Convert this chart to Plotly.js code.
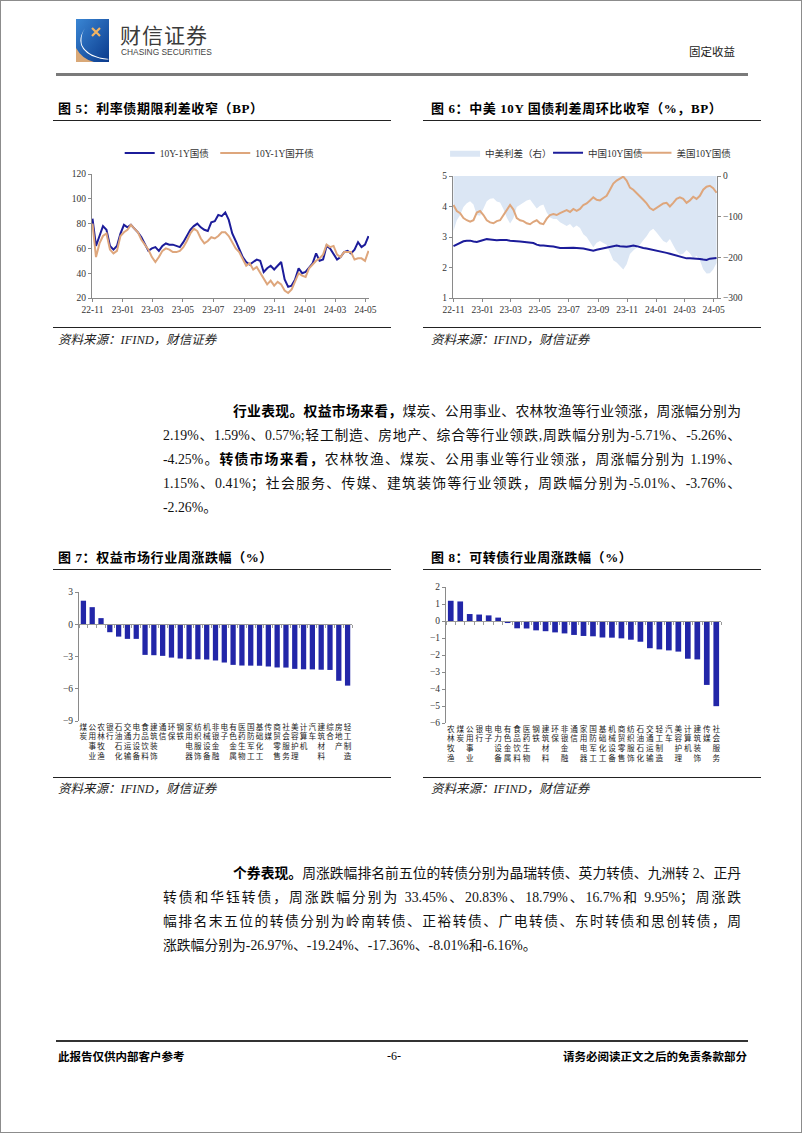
<!DOCTYPE html>
<html>
<head>
<meta charset="utf-8">
<script src="https://cdn.plot.ly/plotly-3.0.1.min.js"></script>
<style>
  body { margin: 0; background: #fff; }
  #page { position: relative; width: 800px; height: 1131px; border: 1px solid #8c8c8c; overflow: hidden;
          font-family: "Liberation Serif", "Noto Sans CJK SC", serif; color: #000; }
  .abs { position: absolute; }
  .ctitle { position: absolute; font-family: "Liberation Serif", "Noto Sans CJK SC"; font-weight: bold; font-size: 13px;
            line-height: 16px; letter-spacing: 0.6px; white-space: nowrap; }
  .rule { position: absolute; height: 0; border-top: 1.6px solid #222; }
  .src { position: absolute; font-style: italic; font-size: 12.5px; line-height: 16px; color: #222; white-space: nowrap; }
  .chart { position: absolute; }
  .ln { position: absolute; left: 162px; width: 578px; font-size: 13.8px; line-height: 20px; height: 20px;
        text-align: justify; text-align-last: justify; color: #111; }
  .ln.ind { left: 232px; width: 508px; }
  .ln.last { text-align-last: left; }
  .ln b { font-weight: bold; color: #000; }
</style>
</head>
<body>
<div id="page">
  <!-- header -->
  <svg class="abs" style="left:75px;top:18px" width="33" height="43" viewBox="0 0 33 43">
    <defs>
      <linearGradient id="lg" x1="0" y1="0" x2="1" y2="1">
        <stop offset="0" stop-color="#3a86d4"/><stop offset="1" stop-color="#0a3a8c"/>
      </linearGradient>
    </defs>
    <rect width="33" height="43" fill="url(#lg)"/>
    <path d="M0 29 Q6 40 18 43 L0 43 Z" fill="#d9a877"/>
    <path d="M9 9 Q-3 27 16 37 Q30 42 33 40 Q12 38 6 26 Q4 17 9 9 Z" fill="#fff"/>
    <path d="M16 9 L24 17 M24 9 L16 17" stroke="#f2b463" stroke-width="2.2"/>
  </svg>
  <div class="abs" style="left:119px;top:21px;font-family:'Noto Sans CJK SC';font-size:21px;line-height:24px;color:#3b3b3b;letter-spacing:1px">财信证券</div>
  <div class="abs" style="left:120px;top:47px;font-family:'Liberation Sans';font-size:8.4px;line-height:9px;color:#444">CHASING SECURITIES</div>
  <div class="abs" style="left:688px;top:42px;font-family:'Noto Sans CJK SC';font-size:11.5px;line-height:16px;color:#222">固定收益</div>
  <div class="abs" style="left:55px;top:72px;width:692px;height:3px;background:#7a7a7a"></div>

  <!-- figure 5 / 6 -->
  <div class="ctitle" style="left:57px;top:100px">图 5：利率债期限利差收窄（BP）</div>
  <div class="rule" style="left:52px;top:119px;width:338px"></div>
  <div id="chart5" class="chart" style="left:48px;top:125px;width:342px;height:200px"></div>
  <div class="rule" style="left:52px;top:326px;width:338px"></div>
  <div class="src" style="left:57px;top:331px">资料来源：IFIND，财信证券</div>

  <div class="ctitle" style="left:430px;top:100px">图 6：中美 10Y 国债利差周环比收窄（%，BP）</div>
  <div class="rule" style="left:422px;top:119px;width:338px"></div>
  <div id="chart6" class="chart" style="left:418px;top:125px;width:345px;height:200px"></div>
  <div class="rule" style="left:422px;top:326px;width:338px"></div>
  <div class="src" style="left:430px;top:331px">资料来源：IFIND，财信证券</div>

  <!-- paragraph 1 -->
  <div class="ln ind" style="top:401px"><b>行业表现。权益市场来看，</b>煤炭、公用事业、农林牧渔等行业领涨，周涨幅分别为</div>
  <div class="ln" style="top:425px">2.19%、1.59%、0.57%;轻工制造、房地产、综合等行业领跌,周跌幅分别为-5.71%、-5.26%、</div>
  <div class="ln" style="top:449px">-4.25%。<b>转债市场来看，</b>农林牧渔、煤炭、公用事业等行业领涨，周涨幅分别为 1.19%、</div>
  <div class="ln" style="top:473px">1.15%、0.41%；社会服务、传媒、建筑装饰等行业领跌，周跌幅分别为-5.01%、-3.76%、</div>
  <div class="ln last" style="top:497px">-2.26%。</div>

  <!-- figure 7 / 8 -->
  <div class="ctitle" style="left:57px;top:549px">图 7：权益市场行业周涨跌幅（%）</div>
  <div class="rule" style="left:52px;top:568px;width:338px"></div>
  <div id="chart7" class="chart" style="left:48px;top:572px;width:342px;height:200px"></div>
  <div class="rule" style="left:52px;top:776px;width:338px"></div>
  <div class="src" style="left:57px;top:780px">资料来源：IFIND，财信证券</div>

  <div class="ctitle" style="left:430px;top:549px">图 8：可转债行业周涨跌幅（%）</div>
  <div class="rule" style="left:422px;top:568px;width:338px"></div>
  <div id="chart8" class="chart" style="left:418px;top:572px;width:345px;height:200px"></div>
  <div class="rule" style="left:422px;top:776px;width:338px"></div>
  <div class="src" style="left:430px;top:780px">资料来源：IFIND，财信证券</div>

  <!-- paragraph 2 -->
  <div class="ln ind" style="top:863px"><b>个券表现。</b>周涨跌幅排名前五位的转债分别为晶瑞转债、英力转债、九洲转 2、正丹</div>
  <div class="ln" style="top:887px">转债和华钰转债，周涨跌幅分别为 33.45%、20.83%、18.79%、16.7%和 9.95%；周涨跌</div>
  <div class="ln" style="top:911px">幅排名末五位的转债分别为岭南转债、正裕转债、广电转债、东时转债和思创转债，周</div>
  <div class="ln last" style="top:935px">涨跌幅分别为-26.97%、-19.24%、-17.36%、-8.01%和-6.16%。</div>

  <!-- footer -->
  <div class="abs" style="left:55px;top:1039px;width:692px;height:2px;background:#333"></div>
  <div class="abs" style="left:57px;top:1047px;font-family:'Noto Sans CJK SC';font-weight:bold;font-size:11.5px;line-height:16px">此报告仅供内部客户参考</div>
  <div class="abs" style="left:386px;top:1047px;font-size:12px;line-height:16px">-6-</div>
  <div class="abs" style="right:54px;top:1047px;font-family:'Noto Sans CJK SC';font-weight:bold;font-size:11.5px;line-height:16px">请务必阅读正文之后的免责条款部分</div>
</div>

<script>
// weekly series, first point 2022-11-01
const startDate = '2022-11-01';
const weekMs = 7 * 24 * 3600 * 1000;

// 图5: 10Y-1Y 期限利差 (BP)
const govSpread = [84, 62, 70, 78, 75, 62, 59, 62, 72, 79,
  77, 79, 76, 73, 69, 64, 58, 60, 61, 58,
  62, 64, 63, 63, 62, 61, 65, 70, 75, 78,
  80, 77, 75, 74, 81, 82, 87, 86, 89, 83,
  72, 66, 60, 53, 49, 47, 49, 51, 50, 41,
  44, 46, 43, 46, 49, 35, 29, 30, 35, 44,
  40, 41, 45, 48, 56, 50, 51, 62, 60, 56,
  51, 53, 57, 58, 56, 59, 65, 61, 63, 70];
const cdbSpread = [80, 53, 64, 70, 72, 59, 56, 58, 70, 73,
  75, 79, 76, 73, 67, 63, 59, 53, 49, 53,
  58, 60, 59, 57, 57, 58, 61, 66, 72, 76,
  74, 68, 64, 66, 69, 68, 70, 73, 73, 70,
  65, 60, 57, 51, 46, 48, 43, 45, 40, 35,
  31, 34, 30, 33, 31, 26, 24, 27, 33, 40,
  38, 37, 44, 47, 50, 52, 55, 63, 61, 62,
  55, 53, 57, 57, 57, 51, 52, 52, 50, 58];

// 图6: 中美10Y国债 (%) 与利差 (BP)
const cn10y = [2.70, 2.76, 2.82, 2.86, 2.88, 2.88, 2.85, 2.84, 2.87, 2.90,
  2.93, 2.92, 2.90, 2.89, 2.90, 2.91, 2.90, 2.88, 2.86, 2.86,
  2.85, 2.84, 2.83, 2.82, 2.80, 2.75, 2.72, 2.72, 2.70, 2.70,
  2.69, 2.66, 2.64, 2.64, 2.65, 2.64, 2.65, 2.64, 2.64, 2.62,
  2.60, 2.57, 2.55, 2.58, 2.60, 2.63, 2.66, 2.67, 2.68, 2.72,
  2.70, 2.68, 2.68, 2.70, 2.72, 2.70, 2.66, 2.64, 2.62, 2.60,
  2.58, 2.56, 2.52, 2.50, 2.48, 2.45, 2.42, 2.40, 2.37, 2.34,
  2.30, 2.30, 2.30, 2.29, 2.28, 2.26, 2.25, 2.29, 2.30, 2.31];
const us10y = [4.05, 3.85, 3.78, 3.62, 3.55, 3.50, 3.55, 3.80, 3.85, 3.72,
  3.55, 3.48, 3.45, 3.52, 3.55, 3.72, 3.92, 4.05, 3.90, 3.62,
  3.55, 3.52, 3.45, 3.42, 3.50, 3.55, 3.45, 3.42, 3.60, 3.72,
  3.75, 3.72, 3.78, 3.82, 3.88, 3.82, 3.92, 3.86, 3.92, 4.05,
  4.10, 4.20, 4.30, 4.22, 4.20, 4.28, 4.35, 4.55, 4.75, 4.85,
  4.92, 4.98, 4.85, 4.62, 4.55, 4.45, 4.35, 4.22, 4.10, 3.95,
  3.88, 3.95, 4.02, 4.10, 4.12, 4.00, 4.12, 4.25, 4.30, 4.25,
  4.12, 4.20, 4.32, 4.25, 4.35, 4.55, 4.65, 4.68, 4.60, 4.45];
const cnUsSpread = [-135, -109, -96, -76, -67, -62, -70, -96, -98, -82,
  -62, -56, -55, -63, -65, -81, -102, -117, -104, -76,
  -70, -66, -60, -58, -70, -80, -73, -70, -90, -102,
  -106, -106, -114, -118, -123, -118, -127, -122, -128, -143,
  -150, -163, -175, -164, -160, -165, -169, -188, -207, -213,
  -222, -230, -217, -192, -183, -175, -169, -158, -148, -135,
  -130, -139, -150, -160, -164, -155, -170, -185, -193, -191,
  -182, -190, -202, -196, -207, -229, -240, -239, -230, -214];

// 图7: 权益市场行业周涨跌幅 (%)
const equityInds = ['煤炭', '公用事业', '农林牧渔', '银行', '石油石化', '交通运输', '电力设备', '食品饮料',
  '建筑装饰', '通信', '环保', '钢铁', '家用电器', '纺织服饰', '机械设备', '非银金融', '电子', '有色金属',
  '医药生物', '国防军工', '基础化工', '传媒', '商贸零售', '社会服务', '美容护理', '计算机', '汽车',
  '建筑材料', '综合', '房地产', '轻工制造'];
const equityChg = [2.19, 1.59, 0.57, -0.74, -1.15, -1.36, -1.36, -2.85, -2.88, -2.94, -3.10, -3.19, -3.25,
  -3.26, -3.28, -3.37, -3.56, -3.78, -3.84, -3.85, -3.86, -3.93, -4.02, -4.03, -4.15, -4.19, -4.20, -4.23,
  -4.25, -5.26, -5.71];

// 图8: 可转债行业周涨跌幅 (%)
const cbInds = ['农林牧渔', '煤炭', '公用事业', '银行', '电子', '电力设备', '有色金属', '食品饮料', '医药生物',
  '钢铁', '建筑材料', '环保', '非银金融', '通信', '家用电器', '国防军工', '基础化工', '机械设备', '商贸零售',
  '纺织服饰', '石油石化', '交通运输', '轻工制造', '汽车', '美容护理', '计算机', '建筑装饰', '传媒', '社会服务'];
const cbChg = [1.19, 1.15, 0.41, 0.38, 0.33, 0.20, -0.12, -0.43, -0.44, -0.55, -0.60, -0.67, -0.73, -0.82,
  -0.88, -0.90, -0.97, -0.98, -1.02, -1.10, -1.22, -1.60, -1.67, -1.73, -1.80, -2.22, -2.26, -3.76, -5.01];

const navy = '#1c1c9a';
const tan = '#dea67c';
const areaBlue = '#dbe6f4';
const barBlue = '#2226a8';
const fontFam = "'Liberation Serif', 'Noto Sans CJK SC', serif";
const axisColor = '#8a8a8a';
const cfg = { displayModeBar: false, responsive: false };

const baseLayout = {
  paper_bgcolor: '#fff',
  plot_bgcolor: '#fff',
  font: { family: fontFam, size: 9.5, color: '#333' },
  showlegend: true,
  hovermode: false
};

const dateAxis = {
  type: 'date',
  range: ['2022-10-31', '2024-05-08'],
  tick0: '2022-11-01',
  dtick: 'M2',
  tickformat: '%y-%m',
  ticks: 'outside',
  ticklen: 3,
  tickcolor: axisColor,
  showline: true,
  linecolor: axisColor,
  showgrid: false,
  zeroline: false,
  tickfont: { family: fontFam, size: 9.5, color: '#333' }
};

const valueAxis = {
  showline: true,
  linecolor: axisColor,
  ticks: 'outside',
  ticklen: 3,
  tickcolor: axisColor,
  showgrid: false,
  zeroline: false,
  tickfont: { family: fontFam, size: 9.5, color: '#333' }
};

// one single-item legend per series, so each entry sits where the reference puts it
function legendAt(x, y) {
  return { orientation: 'h', x: x, xanchor: 'left', y: y, yanchor: 'middle',
    bgcolor: 'rgba(0,0,0,0)', font: { family: fontFam, size: 9.5, color: '#333' } };
}

// 图5
Plotly.newPlot('chart5', [
  { type: 'scatter', mode: 'lines', name: '10Y-1Y国债', x0: startDate, dx: weekMs, y: govSpread,
    line: { color: navy, width: 2 }, legend: 'legend' },
  { type: 'scatter', mode: 'lines', name: '10Y-1Y国开债', x0: startDate, dx: weekMs, y: cdbSpread,
    line: { color: tan, width: 2 }, legend: 'legend2' }
], {
  ...baseLayout,
  width: 342, height: 200,
  margin: { l: 43, r: 22, t: 40, b: 28 },
  legend: legendAt(0.1, 1.17),
  legend2: legendAt(0.445, 1.17),
  xaxis: { ...dateAxis },
  yaxis: { ...valueAxis, range: [20, 120], dtick: 20 }
}, cfg);

// 图6: area on the (right-hand) primary axis so that the yield lines on the overlay sit above it
Plotly.newPlot('chart6', [
  { type: 'scatter', mode: 'lines', name: '中美利差（右）', x0: startDate, dx: weekMs, y: cnUsSpread,
    yaxis: 'y', fill: 'tozeroy', fillcolor: areaBlue, line: { width: 0, color: areaBlue }, legend: 'legend' },
  { type: 'scatter', mode: 'lines', name: '中国10Y国债', x0: startDate, dx: weekMs, y: cn10y,
    yaxis: 'y2', line: { color: navy, width: 2 }, legend: 'legend2' },
  { type: 'scatter', mode: 'lines', name: '美国10Y国债', x0: startDate, dx: weekMs, y: us10y,
    yaxis: 'y2', line: { color: tan, width: 2 }, legend: 'legend3' }
], {
  ...baseLayout,
  width: 345, height: 200,
  margin: { l: 34, r: 47, t: 42, b: 28 },
  legend: legendAt(-0.03, 1.19),
  legend2: legendAt(0.36, 1.19),
  legend3: legendAt(0.695, 1.19),
  xaxis: { ...dateAxis },
  yaxis: { ...valueAxis, side: 'right', range: [-300, 0], dtick: 100 },
  yaxis2: { ...valueAxis, overlaying: 'y', side: 'left', range: [1, 5], dtick: 1 }
}, cfg);

// 图7 / 图8
function industryBars(divId, cats, vals, yMin, yMax, w, h, margin) {
  const n = cats.length;
  Plotly.newPlot(divId, [
    { type: 'bar', x: cats, y: vals, marker: { color: barBlue }, width: 0.6, showlegend: false },
    { type: 'scatter', x: [], y: [], xaxis: 'x2', showlegend: false, hoverinfo: 'skip' }
  ], {
    ...baseLayout,
    showlegend: false,
    width: w, height: h,
    margin: margin,
    xaxis: {
      type: 'category',
      range: [-0.5, n - 0.5],
      tickvals: cats,
      ticktext: cats.map((c) => c.split('').join('<br>')),
      showline: false,
      ticks: '',
      showgrid: false,
      zeroline: false,
      tickangle: 0,
      tickfont: { family: fontFam, size: 7.6, color: '#1a1a1a' }
    },
    xaxis2: {
      overlaying: 'x',
      anchor: 'free',
      position: (0 - yMin) / (yMax - yMin),
      range: [-0.5, n - 0.5],
      tick0: 0.5,
      dtick: 1,
      ticks: 'outside',
      ticklen: 3,
      tickcolor: '#9a9a9a',
      showticklabels: false,
      showline: true,
      linecolor: '#9a9a9a',
      showgrid: false,
      zeroline: false
    },
    yaxis: { ...valueAxis, range: [yMin, yMax], dtick: (yMax - yMin) > 10 ? 3 : 1 }
  }, cfg);
}

industryBars('chart7', equityInds, equityChg, -9, 3, 342, 200, { l: 30, r: 39, t: 19, b: 52 });
industryBars('chart8', cbInds, cbChg, -6, 2, 345, 200, { l: 27, r: 43, t: 14, b: 50 });
</script>
</body>
</html>
